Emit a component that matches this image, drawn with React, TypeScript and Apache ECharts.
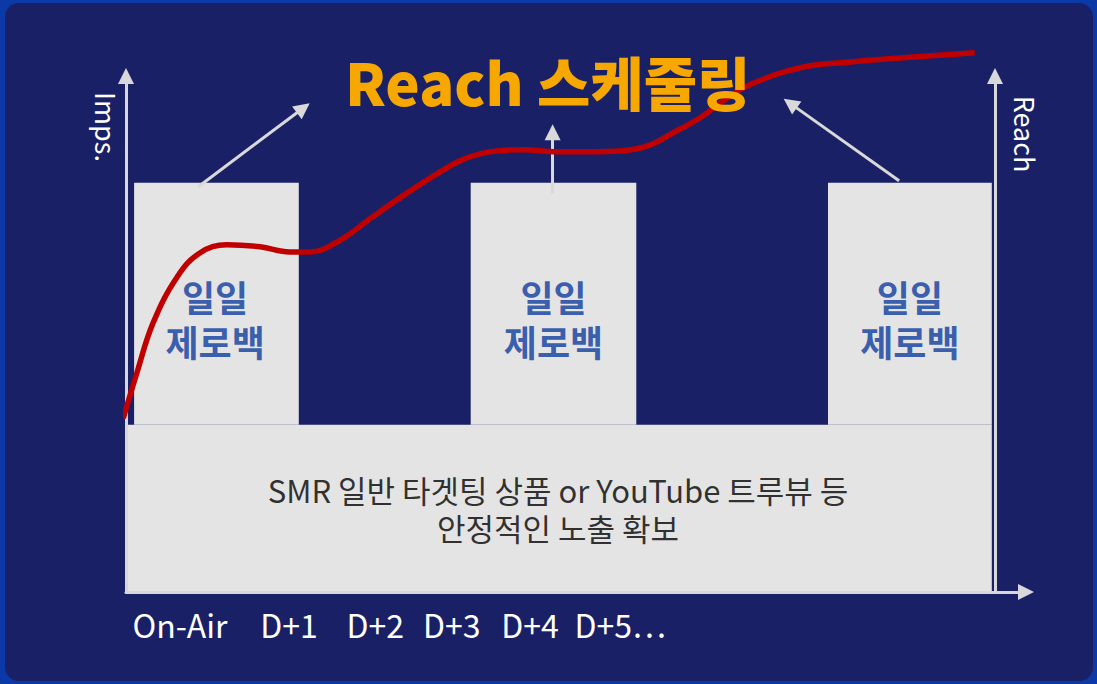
import React, { useEffect, useRef } from "react";
import * as echarts from "echarts";

// ---- data ----
const xTickLabels = ["On-Air", "D+1", "D+2", "D+3", "D+4", "D+5…"];
const xTickPositions = [6.0, 18.1, 27.7, 36.2, 44.9, 54.9];

// exposure areas: [x0, x1, y0, y1] in axis units (Imps. axis)
const areaX0 = [0.2, 0.9, 38.3, 78.0];
const areaX1 = [96.2, 19.2, 56.7, 96.2];
const areaY0 = [0, 32.4, 32.4, 32.4];
const areaY1 = [32.4, 79.3, 79.3, 79.3];

// burst labels (two lines each)
const burstLines = ["일일", "제로백"];
const burstLineY = [57.4, 48.6];
const burstLabelX = [9.9, 47.5, 87.1];

// base label (two lines)
const baseLines = ["SMR 일반 타겟팅 상품 or YouTube 트루뷰 등", "안정적인 노출 확보"];
const baseLineY = [19.8, 12.5];
const baseLabelX = 48.0;

// Reach curve
const reachX = [-0.3, 1.2, 3.0, 5.7, 8.2, 11.2, 14.9, 18.2, 20.4, 23.8, 27.4, 31.2, 34.9, 37.4, 40.4, 44.1, 47.9, 51.6, 55.2, 58.2, 60.8, 63.8, 66.6, 69.3, 74.9, 80.4, 86.0, 94.3];
const reachY = [33.7, 42.4, 52.1, 61.1, 65.7, 67.3, 66.9, 65.9, 65.9, 68.2, 72.7, 77.3, 81.4, 83.8, 85.3, 85.7, 85.3, 85.3, 85.5, 86.6, 89.0, 91.9, 95.5, 98.3, 101.6, 102.7, 103.5, 104.5];

// pointer arrows from bursts to the title
const arrowFromX = [8.0, 47.4, 85.9];
const arrowFromY = [78.5, 77.3, 79.7];
const arrowToX = [19.7, 47.4, 73.8];
const arrowToY = [93.8, 89.1, 94.7];

const title = "Reach 스케줄링";
const leftAxisName = "Imps.";
const rightAxisName = "Reach";

const FONT = '"Noto Sans CJK KR", "Noto Sans", sans-serif';
const AXIS_COLOR = "#d8d8dc";

export default function App() {
  const ref = useRef<HTMLDivElement>(null);

  useEffect(() => {
    if (!ref.current) return;
    const chart = echarts.init(ref.current, null, { renderer: "svg" });

    const areaData = areaX0.map((x0, i) => [x0, areaX1[i], areaY0[i], areaY1[i]]);
    const reachData = reachX.map((x, i) => [x, reachY[i]]);
    const arrowData = arrowFromX.map((x, i) => ({
      coords: [
        [x, arrowFromY[i]],
        [arrowToX[i], arrowToY[i]],
      ],
    }));
    const burstData: any[] = [];
    burstLabelX.forEach((x) => {
      burstLines.forEach((t, j) => burstData.push({ value: [x, burstLineY[j]], text: t }));
    });
    const baseData = baseLines.map((t, j) => ({ value: [baseLabelX, baseLineY[j]], text: t }));

    const axisLineStyle = {
      show: true,
      symbol: ["none", "triangle"],
      symbolSize: [16, 16],
      lineStyle: { color: AXIS_COLOR, width: 3 },
    };

    const textSeries = (data: any[], label: any) => ({
      type: "scatter",
      z: 5,
      xAxisIndex: 0,
      yAxisIndex: 0,
      symbolSize: 1,
      itemStyle: { color: "transparent" },
      label: {
        show: true,
        position: "inside",
        formatter: (p: any) => p.data.text,
        fontFamily: FONT,
        align: "center",
        verticalAlign: "middle",
        ...label,
      },
      data,
    });

    chart.setOption({
      animation: false,
      backgroundColor: "#0c39a8",
      textStyle: { fontFamily: FONT },
      title: {
        text: title,
        left: 345,
        top: 51,
        padding: 0,
        z: 20,
        textStyle: {
          color: "#f7a800",
          fontSize: 58,
          fontWeight: 900,
          fontFamily: FONT,
          lineHeight: 60,
        },
      },
      graphic: [
        {
          type: "rect",
          z: -10,
          shape: { x: 5, y: 3, width: 1088, height: 678, r: 14 },
          style: { fill: "#1a2066" },
        },
        {
          type: "text",
          z: 100,
          x: 106,
          y: 127,
          rotation: -Math.PI / 2,
          style: {
            text: leftAxisName,
            fill: "#ffffff",
            font: `27px ${FONT}`,
            align: "center",
            verticalAlign: "middle",
          },
        },
        {
          type: "text",
          z: 100,
          x: 1025,
          y: 134,
          rotation: -Math.PI / 2,
          style: {
            text: rightAxisName,
            fill: "#ffffff",
            font: `27px ${FONT}`,
            align: "center",
            verticalAlign: "middle",
          },
        },
      ],
      grid: { left: 126, right: 71, top: 76, bottom: 92, containLabel: false },
      xAxis: {
        type: "value",
        min: 0,
        max: 100,
        z: 3,
        axisLine: axisLineStyle,
        axisTick: { show: false },
        splitLine: { show: false },
        axisLabel: {
          show: true,
          customValues: xTickPositions,
          formatter: (v: number) => {
            const i = xTickPositions.findIndex((p) => Math.abs(p - v) < 1e-6);
            return i >= 0 ? xTickLabels[i] : "";
          },
          color: "#ffffff",
          fontSize: 32,
          fontFamily: FONT,
          margin: 16,
        },
      },
      yAxis: [
        {
          type: "value",
          position: "left",
          min: 0,
          max: 100,
          z: 3,
          axisLine: axisLineStyle,
          axisTick: { show: false },
          axisLabel: { show: false },
          splitLine: { show: false },
        },
        {
          type: "value",
          position: "right",
          offset: -31,
          min: 0,
          max: 100,
          z: 3,
          axisLine: axisLineStyle,
          axisTick: { show: false },
          axisLabel: { show: false },
          splitLine: { show: false },
        },
      ],
      series: [
        {
          type: "custom",
          name: "Imps.",
          z: 1,
          xAxisIndex: 0,
          yAxisIndex: 0,
          encode: { x: [0, 1], y: [2, 3] },
          data: areaData,
          renderItem: (params: any, api: any) => {
            const p0 = api.coord([api.value(0), api.value(3)]);
            const p1 = api.coord([api.value(1), api.value(2)]);
            return {
              type: "rect",
              shape: { x: p0[0], y: p0[1], width: p1[0] - p0[0], height: p1[1] - p0[1] },
              style: { fill: "#e4e4e4" },
            };
          },
        },
        {
          type: "lines",
          coordinateSystem: "cartesian2d",
          xAxisIndex: 0,
          yAxisIndex: 0,
          z: 3,
          symbol: ["none", "triangle"],
          symbolSize: 16,
          lineStyle: { color: "#d9d9d9", width: 3, opacity: 1, curveness: 0 },
          itemStyle: { color: "#d9d9d9" },
          data: arrowData,
        },
        {
          type: "line",
          name: "Reach",
          xAxisIndex: 0,
          yAxisIndex: 1,
          z: 4,
          clip: false,
          smooth: 0.4,
          showSymbol: false,
          symbol: "none",
          lineStyle: { color: "#c00000", width: 5.5 },
          data: reachData,
        },
        textSeries(burstData, { color: "#0a3b9e", fontSize: 36, fontWeight: "bold" }),
        textSeries(baseData, { color: "#000000", fontSize: 31, fontWeight: "normal" }),
      ],
    });

    return () => chart.dispose();
  }, []);

  return (
    <div
      ref={ref}
      style={{ position: "fixed", left: 0, top: 0, width: 1097, height: 684 }}
    />
  );
}
